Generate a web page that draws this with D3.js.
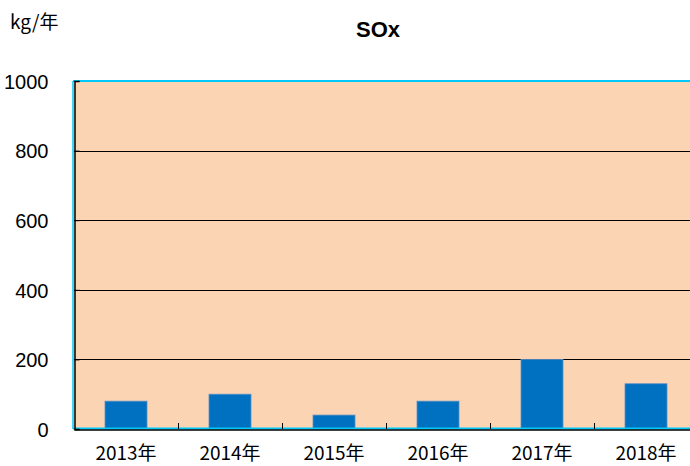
<!DOCTYPE html>
<html>
<head>
<meta charset="utf-8">
<script src="https://cdn.jsdelivr.net/npm/d3@7"></script>
<style>
  body { margin: 0; background: #fff; }
  text { fill: #000; }
</style>
</head>
<body>
<div id="chart"></div>
<script>
var years = ["2013年", "2014年", "2015年", "2016年", "2017年", "2018年"];
var sox = [80, 100, 40, 80, 200, 130];
var yTicks = [0, 200, 400, 600, 800, 1000];

var width = 690, height = 466;
var plot = { left: 74, top: 81, right: 698, bottom: 429 };

var svg = d3.select("#chart").append("svg")
    .attr("width", width)
    .attr("height", height);

var x = d3.scaleBand()
    .domain(years)
    .range([plot.left, plot.right])
    .paddingInner(0)
    .paddingOuter(0);

var y = d3.scaleLinear()
    .domain([0, 1000])
    .range([plot.bottom, plot.top]);

// plot background
svg.append("rect")
    .attr("x", plot.left)
    .attr("y", plot.top)
    .attr("width", plot.right - plot.left)
    .attr("height", plot.bottom - plot.top)
    .attr("fill", "#fbd4b4");

// grid lines
svg.append("g")
    .selectAll("line")
    .data(yTicks.filter(function(d) { return d > 0 && d < 1000; }))
    .enter().append("line")
    .attr("x1", plot.left)
    .attr("x2", width)
    .attr("y1", function(d) { return Math.round(y(d)) + 0.5; })
    .attr("y2", function(d) { return Math.round(y(d)) + 0.5; })
    .attr("stroke", "#000")
    .attr("stroke-width", 1);

// bars
var barW = 42;
svg.append("g")
    .selectAll("rect")
    .data(sox)
    .enter().append("rect")
    .attr("x", function(d, i) { return x(years[i]) + x.bandwidth() / 2 - barW / 2; })
    .attr("y", function(d) { return y(d); })
    .attr("width", barW)
    .attr("height", function(d) { return y(0) - y(d); })
    .attr("fill", "#0070c0")
    .attr("stroke", "#5b8fc4")
    .attr("stroke-width", 0.8);

// cyan frame (top & bottom & left)
svg.append("line")
    .attr("x1", plot.left - 1).attr("x2", width)
    .attr("y1", plot.top).attr("y2", plot.top)
    .attr("stroke", "#00c8f8").attr("stroke-width", 2);
svg.append("line")
    .attr("x1", plot.left - 1).attr("x2", width)
    .attr("y1", plot.bottom - 0.5).attr("y2", plot.bottom - 0.5)
    .attr("stroke", "#00c8f8").attr("stroke-width", 2);
svg.append("line")
    .attr("x1", plot.left - 1).attr("x2", plot.left - 1)
    .attr("y1", plot.top).attr("y2", plot.bottom)
    .attr("stroke", "#00c8f8").attr("stroke-width", 1.5);

// y axis
var yAxis = d3.axisLeft(y)
    .tickValues(yTicks)
    .tickSize(-5)
    .tickPadding(26)
    .tickFormat(d3.format("d"));

var gy = svg.append("g")
    .attr("transform", "translate(" + (plot.left + 0.5) + ",0)")
    .call(yAxis);
gy.select(".domain").attr("stroke", "#000").attr("stroke-width", 1.5);
gy.selectAll(".tick line").attr("stroke", "#000");
gy.selectAll(".tick text")
    .attr("font-family", "'Liberation Sans', Arial, sans-serif")
    .attr("font-size", 20)
    .attr("dy", "0.36em");

// x axis
var xAxis = d3.axisBottom(x)
    .tickSize(0)
    .tickPadding(17);

var gx = svg.append("g")
    .attr("transform", "translate(0," + (plot.bottom + 0.5) + ")")
    .call(xAxis);
gx.select(".domain").attr("stroke", "#000").attr("stroke-width", 1.5);
gx.selectAll(".tick text")
    .attr("font-family", "'Noto Sans CJK JP', sans-serif")
    .attr("font-size", 19);

// category separators (inward ticks)
svg.append("g")
    .selectAll("line")
    .data(years.slice(1))
    .enter().append("line")
    .attr("x1", function(d) { return Math.round(x(d)) + 0.5; })
    .attr("x2", function(d) { return Math.round(x(d)) + 0.5; })
    .attr("y1", plot.bottom)
    .attr("y2", plot.bottom - 6)
    .attr("stroke", "#000");

// title
svg.append("text")
    .attr("x", 378)
    .attr("y", 37)
    .attr("text-anchor", "middle")
    .attr("font-family", "'Liberation Sans', Arial, sans-serif")
    .attr("font-weight", "bold")
    .attr("font-size", 22)
    .text("SOx");

// unit
svg.append("text")
    .attr("x", 10)
    .attr("y", 29)
    .attr("font-family", "'Noto Sans CJK JP', sans-serif")
    .attr("font-size", 19)
    .text("kg/年");
</script>
</body>
</html>
